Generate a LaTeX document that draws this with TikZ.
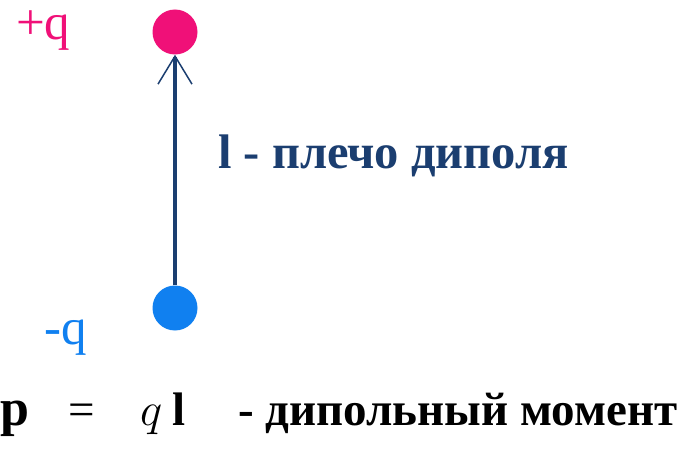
\documentclass[tikz,border=0pt]{standalone}
\usepackage{fix-cm}
\usepackage[no-math]{fontspec}
\setmainfont{Liberation Serif}
\usetikzlibrary{arrows.meta}
\definecolor{pcol}{RGB}{240,16,120}
\definecolor{ncol}{RGB}{16,128,240}
\definecolor{navy}{RGB}{27,62,112}
\tikzset{
  charge/.style={circle,inner sep=0pt,minimum size=45pt},
  lbl/.style={anchor=base west,inner sep=0pt,font=\fontsize{51}{58}\selectfont},
  big/.style={anchor=base west,inner sep=0pt,font=\fontsize{47}{56}\selectfont\bfseries},
}
\begin{document}
\begin{tikzpicture}[x=1pt,y=-1pt]
\useasboundingbox[fill=white] (0,0) rectangle (678,452);
\node[charge,fill=pcol] (pos) at (175,32) {};
\node[charge,fill=ncol] (neg) at (175,308) {};
\draw[navy,line width=4pt,-{Straight Barb[length=28pt,width=34pt,line width=1.5pt]}] (neg.north) -- (pos.south);
\node[lbl,text=pcol] (tp) at (16,40) {+q};
\node[lbl,text=ncol] (tn) at (44,344) {-q};
\node[big,text=navy,font=\fontsize{48.5}{56}\selectfont\bfseries] (arm) at (218,168) {l - плечо диполя};
\node[big,font=\fontsize{52}{60}\selectfont\bfseries] (p) at (0,425) {p};
\node[lbl,font=\fontsize{47}{56}\selectfont] (eq) at (68,425) {=};
\node[lbl,font=\fontsize{47}{56}\selectfont] (q) at (140,425) {$q$};
\node[big] (l) at (172,425) {l};
\node[big] (mom) at (238,425) {- дипольный момент};
\end{tikzpicture}
\end{document}
